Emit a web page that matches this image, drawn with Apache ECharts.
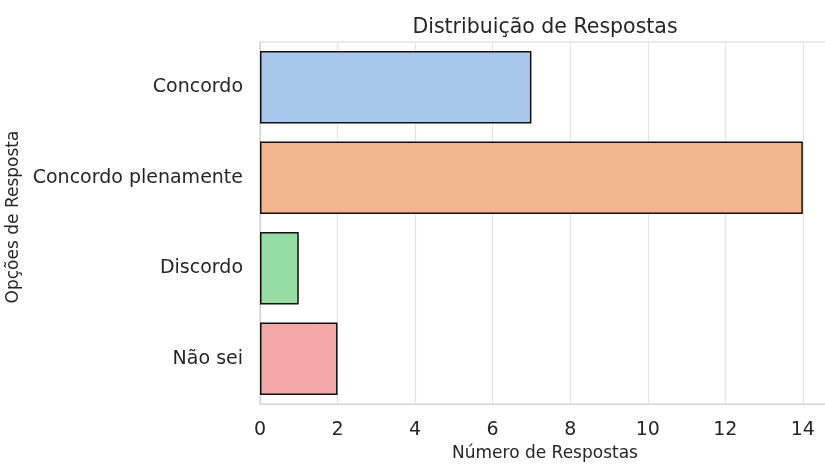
<!DOCTYPE html>
<html>
<head>
    <meta charset="utf-8">
    <title>Distribuição de Respostas</title>
    <script src="https://cdn.jsdelivr.net/npm/echarts@6/dist/echarts.min.js"></script>
</head>
<body style="margin:0;">
    <div id="main" style="width: 825px; height: 466px;"></div>

    <script>
        // dados
        var categorias = ['Concordo', 'Concordo plenamente', 'Discordo', 'Não sei'];
        var respostas = [7, 14, 1, 2];
        var cores = ['#a7c8ec', '#f1b68e', '#95dca5', '#f4a7a7'];

        var chartDom = document.getElementById('main');
        var myChart = echarts.init(chartDom);
        var fonte = 'DejaVu Sans';

        var option = {
            backgroundColor: '#ffffff',
            textStyle: { fontFamily: fonte },
            title: {
                text: 'Distribuição de Respostas',
                left: 540,
                textAlign: 'center',
                top: 12,
                textStyle: { fontFamily: fonte, fontSize: 20.5, fontWeight: 'normal', color: '#262626' }
            },
            // a área do gráfico passa um pouco da borda direita (recorte do original)
            grid: {
                left: 260, right: -5, top: 42, bottom: 62,
                outerBoundsMode: 'none',
                containLabel: false,
                show: true, borderColor: '#d6d6d6', borderWidth: 1.2
            },
            xAxis: {
                type: 'value',
                min: 0,
                max: 14.7,
                interval: 2,
                name: 'Número de Respostas',
                nameLocation: 'middle',
                nameGap: 41,
                nameTextStyle: { fontSize: 17, color: '#262626' },
                axisLine: { show: true, lineStyle: { color: '#d6d6d6', width: 1.2 } },
                axisTick: { show: false },
                axisLabel: { fontSize: 19, color: '#262626', margin: 17, showMaxLabel: false },
                splitLine: { show: true, lineStyle: { color: '#e3e3e3', width: 1.2 } }
            },
            yAxis: {
                type: 'category',
                inverse: true,
                data: categorias,
                name: 'Opções de Resposta',
                nameLocation: 'middle',
                nameGap: 233,
                nameTextStyle: { fontSize: 17, color: '#262626', padding: [0, 0, 0, 12] },
                axisLine: { show: true, lineStyle: { color: '#d6d6d6', width: 1.2 } },
                axisTick: { show: false },
                axisLabel: { fontSize: 19, color: '#262626', margin: 17 },
                splitLine: { show: false }
            },
            series: [
                {
                    type: 'bar',
                    barCategoryGap: '20%',
                    data: respostas.map(function (v, i) {
                        return { value: v, itemStyle: { color: cores[i] } };
                    }),
                    itemStyle: { borderColor: '#111111', borderWidth: 1.5 },
                    animation: false
                }
            ]
        };

        myChart.setOption(option);
    </script>
</body>
</html>
